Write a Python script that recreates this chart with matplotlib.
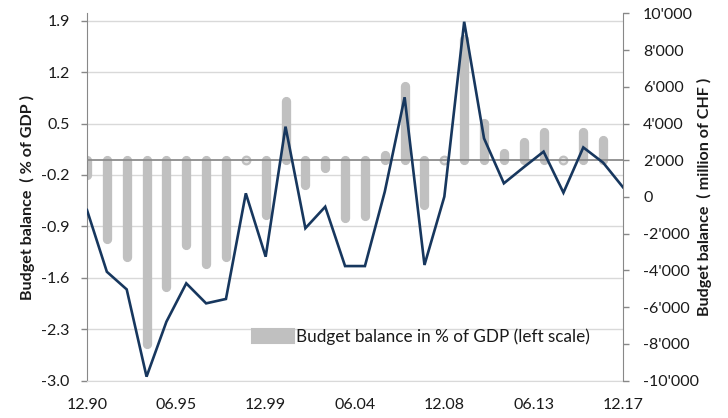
import numpy as np
import matplotlib
matplotlib.use("Agg")
import matplotlib.pyplot as plt
from matplotlib.patches import Patch
from matplotlib.ticker import FixedLocator, FuncFormatter

plt.rcParams['font.family'] = ['Lato', 'DejaVu Sans']
plt.rcParams['axes.unicode_minus'] = False

# ---------------- data ----------------
years = list(range(1990, 2018))
pct_gdp = [-0.20, -1.07, -1.32, -2.50, -1.72, -1.15, -1.41, -1.32, 0.0, -0.74,
           0.81, -0.34, -0.10, -0.79, -0.76, 0.07, 1.01, -0.61, 0.0, 1.65,
           0.51, 0.10, 0.25, 0.38, 0.0, 0.39, 0.27, np.nan]
mio_chf = [-710, -4070, -5030, -9780, -6790, -4700, -5790, -5550, 200, -3250,
           3830, -1700, -530, -3760, -3760, 290, 5430, -3700, 20, 9540,
           3190, 745, 1620, 2470, 235, 2700, 1870, 530]
x_tick_pos = [0, 4.5, 9, 13.5, 18, 22.5, 27]
x_tick_labels = ['12.90', '06.95', '12.99', '06.04', '12.08', '06.13', '12.17']
left_ticks = [-3.0, -2.3, -1.6, -0.9, -0.2, 0.5, 1.2, 1.9]
right_ticks = [-10000, -8000, -6000, -4000, -2000, 0, 2000, 4000, 6000, 8000, 10000]
legend_label = 'Budget balance in % of GDP (left scale)'
left_label = 'Budget balance  ( % of GDP )'
right_label = 'Budget balance  ( million of CHF )'

# ---------------- figure ----------------
W, H = 728, 418
fig = plt.figure(figsize=(W / 100, H / 100), dpi=100)
ax = fig.add_axes([87 / W, 1 - 380.7 / H, (623 - 87) / W, (380.7 - 13.3) / H])
ax2 = ax.twinx()

bar_col = '#c0c0c0'
line_col = '#17375e'
grid_col = '#d9d9d9'
spine_col = '#888888'
txt_col = '#1a1a1a'
fs_tick = 11.5

x = np.arange(len(years))
vals = np.array(pct_gdp, dtype=float)
nonzero = np.isfinite(vals) & (vals != 0)
zero = np.isfinite(vals) & (vals == 0)

# gridlines
ax.set_ylim(-3.0, 2.0)
ax.yaxis.set_major_locator(FixedLocator(left_ticks))
ax.yaxis.set_major_formatter(FuncFormatter(lambda v, p: f"{v:.1f}"))
ax.grid(axis='y', color=grid_col, lw=1.0, zorder=0)
ax.set_axisbelow(True)

# bars with rounded ends
lc = ax.vlines(x[nonzero], 0, vals[nonzero], colors=bar_col, linewidth=6.7, zorder=2)
lc.set_capstyle('round')
ax.plot(x[zero], vals[zero], 'o', ms=5.5, mfc='#e4e4e4', mec=bar_col, mew=1.6,
        zorder=2, linestyle='none')
ax.axhline(0, color='#8c8c8c', lw=1.3, zorder=3)

ax.set_xlim(0, 27)
ax.set_xticks(x_tick_pos)
ax.set_xticklabels(x_tick_labels)

# line
ax2.plot(x, mio_chf, color=line_col, lw=1.9, zorder=4, solid_joinstyle='miter')
ax2.set_ylim(-10000, 10000)
ax2.yaxis.set_major_locator(FixedLocator(right_ticks))
ax2.yaxis.set_major_formatter(FuncFormatter(lambda v, p: f"{int(round(v)):,}".replace(',', "'")))

# spines
for a in (ax, ax2):
    a.spines['top'].set_visible(False)
    a.spines['bottom'].set_visible(False)
ax.spines['right'].set_visible(False)
ax2.spines['left'].set_visible(False)
ax.spines['left'].set_color(spine_col)
ax2.spines['right'].set_color(spine_col)
ax.spines['bottom'].set_visible(True)
ax.spines['bottom'].set_color(grid_col)

ax.tick_params(axis='y', direction='out', length=4, width=1, color=spine_col,
               pad=8.5, labelsize=fs_tick, labelcolor=txt_col)
ax.tick_params(axis='x', length=0, pad=12.5, labelsize=fs_tick, labelcolor=txt_col)
ax2.tick_params(axis='y', direction='out', length=4, width=1, color=spine_col,
                pad=10.5, labelsize=fs_tick, labelcolor=txt_col)

# labels
ax.set_ylabel(left_label, fontsize=11.6, fontweight='bold', color=txt_col)
ax.yaxis.set_label_coords((35 - 87) / 536, 0.5)
ax2.set_ylabel(right_label, fontsize=11.6, fontweight='bold', color=txt_col)
ax2.yaxis.set_label_coords((697 - 87) / 536, 0.5)

# legend
h = Patch(facecolor=bar_col, edgecolor=bar_col, linewidth=1.5, joinstyle='round')
leg = ax.legend([h], [legend_label], loc='upper left', frameon=False,
                bbox_to_anchor=(252 / W, 1 - 328.5 / H), bbox_transform=fig.transFigure,
                borderpad=0, borderaxespad=0, handlelength=2.45, handleheight=0.85,
                handletextpad=0.12, fontsize=12.3)
for t in leg.get_texts():
    t.set_color(txt_col)

fig.savefig('out.png', dpi=100)
